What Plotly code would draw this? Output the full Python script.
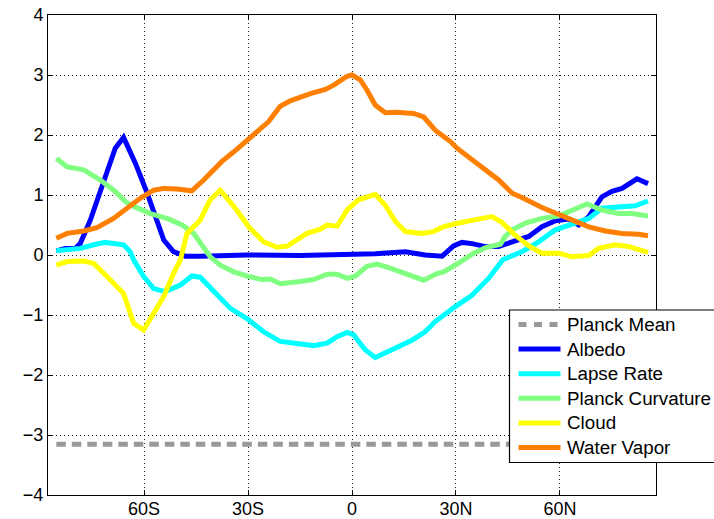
import plotly.graph_objects as go

# ---------------- data ----------------
lat_wv = [-85.3, -82.2, -77.4, -73.6, -68.8, -64.9, -61.1, -57.2, -54.3, -50.5, -46.2, -42.8,
          -37.5, -34.1, -29.3, -24.1, -20.7, -17.8, -12.0, -7.7, -5.3, -1.4, 0.0, 1.0, 2.4,
          4.3, 6.7, 9.6, 12.5, 17.8, 20.7, 24.0, 28.4, 30.3, 37.5, 42.3, 46.2, 49.0, 54.8,
          59.6, 63.5, 68.3, 73.1, 77.9, 82.7, 85.4]
water_vapor = [0.28, 0.36, 0.40, 0.455, 0.61, 0.78, 0.945, 1.08, 1.11, 1.10, 1.07, 1.25,
               1.56, 1.72, 1.97, 2.22, 2.48, 2.57, 2.69, 2.76, 2.83, 2.98, 3.0, 2.97, 2.92,
               2.75, 2.50, 2.37, 2.38, 2.36, 2.30, 2.08, 1.89, 1.78, 1.47, 1.25, 1.03, 0.96, 0.79,
               0.67, 0.57, 0.47, 0.40, 0.36, 0.345, 0.32]

lat_al = [-85.3, -82.7, -79.8, -78.4, -75.5, -71.6, -68.3, -65.9, -62.5, -59.1, -56.7, -54.3,
          -51.5, -48.1, -43.8, -30.3, -15.0, -2.0, 1.0, 6.7, 15.4, 21.1, 26.0, 29.3, 31.7,
          34.6, 38.5, 42.3, 46.2, 51.0, 54.8, 58.7, 62.5, 65.4, 68.3, 72.1, 75.0, 77.9, 82.2, 85.4]
albedo = [0.07, 0.11, 0.11, 0.19, 0.58, 1.25, 1.78, 1.96, 1.53, 1.03, 0.64, 0.25,
          0.055, -0.02, -0.02, 0.0, -0.01, 0.01, 0.0, 0.02, 0.055, 0.0, -0.02, 0.15, 0.21,
          0.19, 0.14, 0.14, 0.22, 0.31, 0.47, 0.57, 0.60, 0.50, 0.64, 0.97, 1.06, 1.11, 1.27, 1.19]

lat_lr = [-85.3, -82.2, -78.4, -74.5, -71.2, -65.9, -64.0, -63.0, -60.1, -57.2, -53.9, -49.5,
          -46.2, -43.8, -39.9, -35.1, -30.3, -25.5, -20.7, -15.9, -11.1, -7.2, -4.3, -1.4,
          0.5, 1.9, 3.8, 6.7, 11.5, 17.3, 21.1, 24.0, 29.8, 34.6, 39.4, 43.5, 49.0, 53.8,
          58.7, 63.5, 68.3, 72.1, 76.9, 81.7, 85.4]
lapse_rate = [0.07, 0.09, 0.11, 0.17, 0.21, 0.17, 0.055, -0.08, -0.36, -0.56, -0.61, -0.50,
              -0.35, -0.37, -0.61, -0.89, -1.06, -1.28, -1.44, -1.48, -1.51, -1.47, -1.36, -1.29,
              -1.33, -1.44, -1.58, -1.71, -1.58, -1.42, -1.28, -1.11, -0.86, -0.67, -0.39, -0.08,
              0.055, 0.22, 0.42, 0.52, 0.61, 0.78, 0.79, 0.82, 0.90]

lat_pc = [-85.3, -82.2, -77.4, -72.6, -68.3, -65.4, -63.0, -58.2, -53.4, -49.0, -45.7, -42.8,
          -40.9, -38.0, -34.1, -30.3, -26.0, -23.6, -20.7, -14.9, -11.1, -7.2, -4.3, -1.4,
          1.0, 4.3, 7.2, 11.0, 15.9, 20.7, 24.5, 26.4, 30.3, 35.1, 38.9, 42.8, 44.2, 46.2,
          50.0, 54.8, 59.6, 63.5, 67.8, 72.1, 76.9, 80.8, 85.4]
planck_curvature = [1.61, 1.47, 1.42, 1.25, 1.06, 0.89, 0.81, 0.69, 0.61, 0.50, 0.36, 0.14,
                    -0.03, -0.17, -0.28, -0.35, -0.41, -0.40, -0.48, -0.44, -0.41, -0.32, -0.32, -0.39,
                    -0.35, -0.19, -0.15, -0.22, -0.33, -0.42, -0.31, -0.28, -0.15, 0.03, 0.13, 0.18,
                    0.31, 0.42, 0.53, 0.61, 0.65, 0.75, 0.85, 0.75, 0.69, 0.69, 0.65]

lat_cl = [-85.3, -82.2, -77.4, -74.5, -70.7, -65.9, -63.0, -60.1, -57.2, -54.3, -51.5, -49.5,
          -47.6, -43.8, -40.9, -38.0, -34.1, -29.8, -25.5, -21.6, -18.7, -13.0, -9.1, -7.2,
          -4.3, -1.4, 1.9, 6.7, 9.6, 12.5, 15.4, 20.2, 23.5, 26.4, 29.8, 34.1, 37.5, 40.4,
          43.3, 47.1, 51.0, 54.8, 59.6, 63.5, 68.3, 71.1, 75.9, 79.8, 85.4]
cloud = [-0.17, -0.11, -0.10, -0.14, -0.36, -0.64, -1.14, -1.25, -0.97, -0.69, -0.31, -0.08,
         0.36, 0.58, 0.92, 1.08, 0.81, 0.47, 0.22, 0.13, 0.15, 0.36, 0.43, 0.50,
         0.48, 0.75, 0.92, 1.01, 0.83, 0.56, 0.39, 0.36, 0.39, 0.47, 0.52, 0.56, 0.61, 0.64,
         0.54, 0.33, 0.15, 0.03, 0.03, -0.03, -0.01, 0.11, 0.17, 0.14, 0.045]

lat_pm = [-85.3, 85.4]
planck_mean = [-3.155, -3.155]

x_tickvals = [-60, -30, 0, 30, 60]
x_ticktext = ["60S", "30S", "0", "30N", "60N"]
y_tickvals = [-4, -3, -2, -1, 0, 1, 2, 3, 4]

# ---------------- figure ----------------
W, H = 714, 519
ML, MR, MT, MB = 48, 58, 15, 24
PW, PH = W - ML - MR, H - MT - MB

def px_x(px):
    return (px - ML) / PW

def px_y(py):
    return (H - MB - py) / PH

font_family = "Liberation Sans, Arial, Helvetica, sans-serif"

fig = go.Figure()
legend_items = [("Planck Mean", lat_pm, planck_mean, "#999999", "9.5px,6px", "8px,7.5px")]
series = [
    ("Albedo", lat_al, albedo, "#0000FF"),
    ("Lapse Rate", lat_lr, lapse_rate, "#00FFFF"),
    ("Planck Curvature", lat_pc, planck_curvature, "#80FF80"),
    ("Cloud", lat_cl, cloud, "#FFFF00"),
    ("Water Vapor", lat_wv, water_vapor, "#FF8000"),
]
for name, xs, ys, col in series:
    legend_items.append((name, xs, ys, col, "solid", "solid"))

for name, xs, ys, col, dash, _ in legend_items:
    fig.add_trace(go.Scatter(x=xs, y=ys, mode="lines", name=name, showlegend=False,
                             line=dict(color=col, width=5, dash=dash)))

# legend box (MATLAB-style), drawn as shapes + text annotations
shapes = [dict(type="rect", xref="paper", yref="paper", layer="above",
               x0=px_x(509.5), x1=px_x(780), y0=px_y(462.5), y1=px_y(310),
               fillcolor="white", line=dict(color="black", width=1.2))]
annotations = []
item_y0, item_dy = 324.5, 24.6
for i, (name, _, _, col, _, ldash) in enumerate(legend_items):
    yy = px_y(item_y0 + i * item_dy)
    shapes.append(dict(type="line", xref="paper", yref="paper", layer="above",
                       x0=px_x(518.5), x1=px_x(560.5), y0=yy, y1=yy,
                       line=dict(color=col, width=5, dash=ldash)))
    annotations.append(dict(text=name, xref="paper", yref="paper", x=px_x(564.5), y=yy,
                            xanchor="left", yanchor="middle", showarrow=False,
                            font=dict(family=font_family, size=18.8, color="black")))

axis_common = dict(
    showline=True, linecolor="black", linewidth=1, mirror="ticks",
    ticks="inside", ticklen=5, tickcolor="black", tickwidth=1,
    showgrid=True, gridcolor="#222222", gridwidth=1, griddash="1px,3px",
    zeroline=False, tickfont=dict(family=font_family, size=18, color="black"),
)
fig.update_xaxes(range=[-87.7, 87.7], tickvals=x_tickvals, ticktext=x_ticktext,
                 ticklabelstandoff=-3, **axis_common)
fig.update_yaxes(range=[-4, 4], tickvals=y_tickvals, **axis_common)

fig.update_layout(
    width=W, height=H,
    margin=dict(l=ML, r=MR, t=MT, b=MB, autoexpand=False),
    paper_bgcolor="white", plot_bgcolor="white",
    showlegend=False,
    shapes=shapes, annotations=annotations,
    font=dict(family=font_family, color="black"),
)

fig.write_html("out.html")
